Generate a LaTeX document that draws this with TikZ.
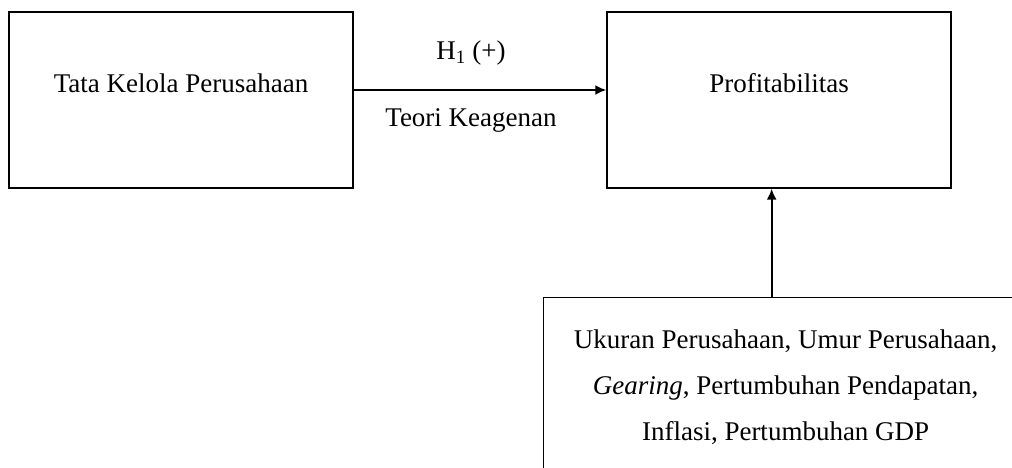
\documentclass[tikz,border=0pt]{standalone}
\usepackage{fontspec}
\setmainfont{Liberation Serif}
\usepackage{tikz}
\usetikzlibrary{arrows.meta}

\begin{document}
\begin{tikzpicture}[x=1pt, y=-1pt,
  font=\fontsize{27}{46}\selectfont,
  kotak/.style={draw, line width=1.3pt, minimum width=344pt, minimum height=176pt,
    text height=18pt, text depth=32pt, inner sep=0pt},
  panah/.style={line width=2pt, -{Latex[length=11pt, width=10pt]}}]
  % Frame
  \useasboundingbox (0,0) rectangle (1012,468);

  % Main boxes
  \node[kotak] (kelola) at (181,100) {Tata Kelola Perusahaan};
  \node[kotak] (profit) at (779,100) {Profitabilitas};

  % Control variables
  \node[draw, line width=1.3pt, anchor=north west, minimum width=484pt,
    inner xsep=0pt, inner ysep=32pt, align=center] (faktor) at (543,297)
    {Ukuran Perusahaan, Umur Perusahaan,\\
     \textit{Gearing}, Pertumbuhan Pendapatan,\\
     Inflasi, Pertumbuhan GDP};

  % Hypothesis arrow
  \coordinate (awal) at ([yshift=10pt]kelola.east);
  \draw[panah] (awal) -- (awal -| profit.west)
    node[midway, above=20pt, xshift=-9pt] (hipotesis) {H\textsubscript{1} (+)}
    node[midway, below=14pt, xshift=-9pt] (teori) {Teori Keagenan};

  % Control arrow
  \coordinate (kontrol) at ([xshift=-14pt]faktor.north);
  \draw[panah] (kontrol) -- (kontrol |- profit.south);
\end{tikzpicture}
\end{document}
